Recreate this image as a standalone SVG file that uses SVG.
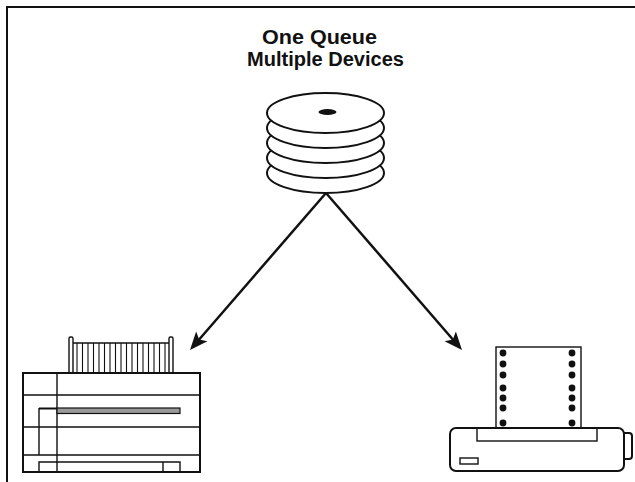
<svg xmlns="http://www.w3.org/2000/svg" width="635" height="482" viewBox="0 0 635 482">
  <style>
    .ink { fill: none; stroke: #111; stroke-width: 2; }
    .thin { fill: none; stroke: #111; stroke-width: 1.4; }
    .disk { fill: #fff; stroke: #111; stroke-width: 2; }
    .title { font-family: "Liberation Sans", Arial, sans-serif; font-weight: bold; font-size: 20px; fill: #111; }
    .hole { fill: #111; }
  </style>
  <defs>
    <marker id="head" markerUnits="userSpaceOnUse" markerWidth="30" markerHeight="30" refX="0" refY="0" orient="auto" overflow="visible">
      <path d="M9,0 L-9,-7.5 L-5,0 L-9,7.5 Z" fill="#111"/>
    </marker>
  </defs>

  <rect width="635" height="482" fill="#fff"/>

  <!-- frame -->
  <g id="frame">
    <path class="ink" d="M7,482 V7 H635"/>
  </g>

  <!-- two-line title -->
  <g id="title">
    <text class="title" text-anchor="middle"><tspan x="319.5" y="43.5" textLength="115" lengthAdjust="spacingAndGlyphs">One Queue</tspan><tspan x="325.5" y="66.3" textLength="157" lengthAdjust="spacingAndGlyphs">Multiple Devices</tspan></text>
  </g>

  <!-- queue: stacked disks, drawn bottom to top -->
  <g id="queue">
    <ellipse class="disk" cx="325.5" cy="173" rx="58.5" ry="20"/>
    <ellipse class="disk" cx="325.5" cy="158" rx="58.5" ry="20"/>
    <ellipse class="disk" cx="325.5" cy="143" rx="58.5" ry="20"/>
    <ellipse class="disk" cx="325.5" cy="128" rx="58.5" ry="20"/>
    <ellipse class="disk" cx="325.5" cy="113" rx="58.5" ry="20"/>
    <ellipse class="hole" cx="327.5" cy="112" rx="9" ry="3"/>
  </g>

  <!-- connectors -->
  <g id="connectors" stroke="#111" stroke-width="2.5" fill="none">
    <line x1="326" y1="193" x2="195.9" y2="343.2" marker-end="url(#head)"/>
    <line x1="326" y1="193" x2="456.1" y2="343.2" marker-end="url(#head)"/>
  </g>

  <!-- laser printer -->
  <g id="laser-printer">
    <!-- paper tray -->
    <rect class="thin" x="69" y="337" width="4" height="36" rx="1.5" fill="#fff"/>
    <rect class="thin" x="169" y="337" width="4" height="36" rx="1.5" fill="#fff"/>
    <path class="thin" d="M73,343 H169"/>
    <path stroke="#111" stroke-width="1.1" fill="none" d="M77,343 V373 M82.5,343 V373 M88,343 V373 M93.5,343 V373 M99,343 V373 M104.5,343 V373 M110,343 V373 M115.5,343 V373 M121,343 V373 M126.5,343 V373 M132,343 V373 M137.5,343 V373 M143,343 V373 M148.5,343 V373 M154,343 V373 M159.5,343 V373 M165,343 V373"/>
    <!-- body -->
    <rect class="ink" x="23" y="373" width="177" height="99" fill="#fff"/>
    <path class="thin" d="M57,373 V472 M23,395 H200 M23,427 H200 M23,455 H200 M39,408 V455"/>
    <!-- output slot -->
    <rect x="57" y="408" width="123" height="5.5" fill="#9a9a9a" stroke="#111" stroke-width="1.2"/>
    <path stroke="#111" stroke-width="2" d="M39,408.5 H57"/>
    <!-- lower tray -->
    <path class="thin" d="M39,472 V462 H180 V472 M163,462 V472"/>
  </g>

  <!-- dot matrix printer -->
  <g id="dot-matrix-printer">
    <!-- continuous form paper -->
    <rect class="thin" x="496" y="347" width="85" height="81" fill="#fff"/>
    <g class="hole">
      <circle cx="503" cy="353" r="3.4"/>
      <circle cx="503" cy="364" r="3.4"/>
      <circle cx="503" cy="375" r="3.4"/>
      <circle cx="503" cy="388" r="3.4"/>
      <circle cx="503" cy="398" r="3.4"/>
      <circle cx="503" cy="408" r="3.4"/>
      <circle cx="503" cy="423" r="3.4"/>
      <circle cx="572" cy="353" r="3.4"/>
      <circle cx="572" cy="364" r="3.4"/>
      <circle cx="572" cy="375" r="3.4"/>
      <circle cx="572" cy="388" r="3.4"/>
      <circle cx="572" cy="398" r="3.4"/>
      <circle cx="572" cy="408" r="3.4"/>
      <circle cx="572" cy="423" r="3.4"/>
    </g>
    <!-- knob -->
    <path class="ink" d="M624,433 H629 Q632,433 632,436 V456 Q632,459 629,459 H624" fill="#fff"/>
    <!-- body -->
    <rect class="ink" x="450" y="428" width="174" height="43" rx="6" fill="#fff"/>
    <rect class="thin" x="477" y="428" width="120" height="13" fill="#fff"/>
    <rect class="thin" x="460" y="458" width="18" height="6" fill="#fff"/>
  </g>
</svg>
